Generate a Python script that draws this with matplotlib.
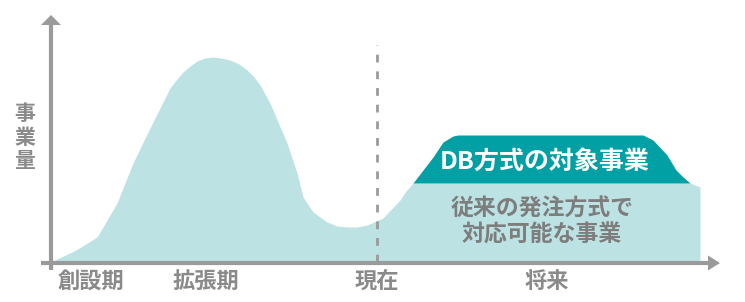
import numpy as np
import matplotlib.pyplot as plt
from matplotlib.patches import Polygon

plt.rcParams['font.family'] = ['Noto Sans CJK JP', 'DejaVu Sans']

# business volume curve (x: time, y: volume)
curve_x = [0, 4, 25, 46, 52, 66, 82, 99, 109, 119, 126, 132, 139, 146, 154, 162,
           170, 179, 188, 196, 203, 209, 219, 227, 236, 246, 252, 262, 276,
           286, 296, 306, 316, 332, 349, 355, 362, 639, 644, 649]
curve_y = [0, 2, 12, 25, 35, 59, 99, 134, 154, 174, 183, 190, 196, 201, 204, 205,
           204, 202, 198, 192, 185, 177, 159, 140, 119, 89, 65, 50, 40,
           36, 35, 35, 37, 44, 62, 71, 79, 79, 77, 75]

# DB-method target band (upper part of the plateau)
db_x = [362, 382, 392, 402, 407, 592, 602, 616, 625, 632, 639]
db_top = [79, 105, 120, 126, 127, 127, 122, 107, 92, 85, 79]
db_base = 79

period_labels = ['創設期', '拡張期', '現在', '将来']
period_pos = [40, 155, 326, 496]
now_x = 326

light = '#bde2e3'
dark = '#00a0a5'
axis_gray = '#9a9a9a'
text_gray = '#8a8a8a'

fig = plt.figure(figsize=(7.45, 3.02), dpi=100)
ax = fig.add_axes([0, 0, 1, 1])
ax.set_xlim(-51, 694)
ax.set_ylim(-40, 262)
ax.axis('off')

ax.fill_between(curve_x, 0, curve_y, color=light, lw=0, zorder=1)
ax.fill_between(db_x, db_base, db_top, color=dark, lw=0, zorder=2)

# axes with arrow heads
ax.plot([0, 0], [-8, 237], color=axis_gray, lw=3, solid_capstyle='butt', zorder=4)
ax.add_patch(Polygon([[-10, 237], [10, 237], [0, 247]], closed=True,
                     color=axis_gray, lw=0, zorder=4))
ax.plot([-10, 658], [-1, -1], color=axis_gray, lw=3, solid_capstyle='butt', zorder=4)
ax.add_patch(Polygon([[657, 6.5], [657, -8.5], [669, -1]], closed=True,
                     color=axis_gray, lw=0, zorder=4))

# "now" divider
ax.plot([now_x, now_x], [0, 217], color=axis_gray, lw=2, dashes=(2.8, 3.2), zorder=3)

for lab, xp in zip(period_labels, period_pos):
    ax.text(xp, -19, lab, ha='center', va='center', fontsize=16,
            fontweight='bold', color=text_gray)

ax.text(-26, 125, '事\n業\n量', ha='center', va='center', fontsize=15,
        fontweight='bold', color=text_gray, linespacing=1.12)

ax.text(494, 100, 'DB方式の対象事業', ha='center', va='center', fontsize=18,
        fontweight='bold', color='white', zorder=5)
ax.text(491, 40, '従来の発注方式で\n対応可能な事業', ha='center', va='center',
        fontsize=16.5, fontweight='bold', color='#7d7d7d', linespacing=1.15, zorder=5)

fig.savefig('out.png', dpi=100)
